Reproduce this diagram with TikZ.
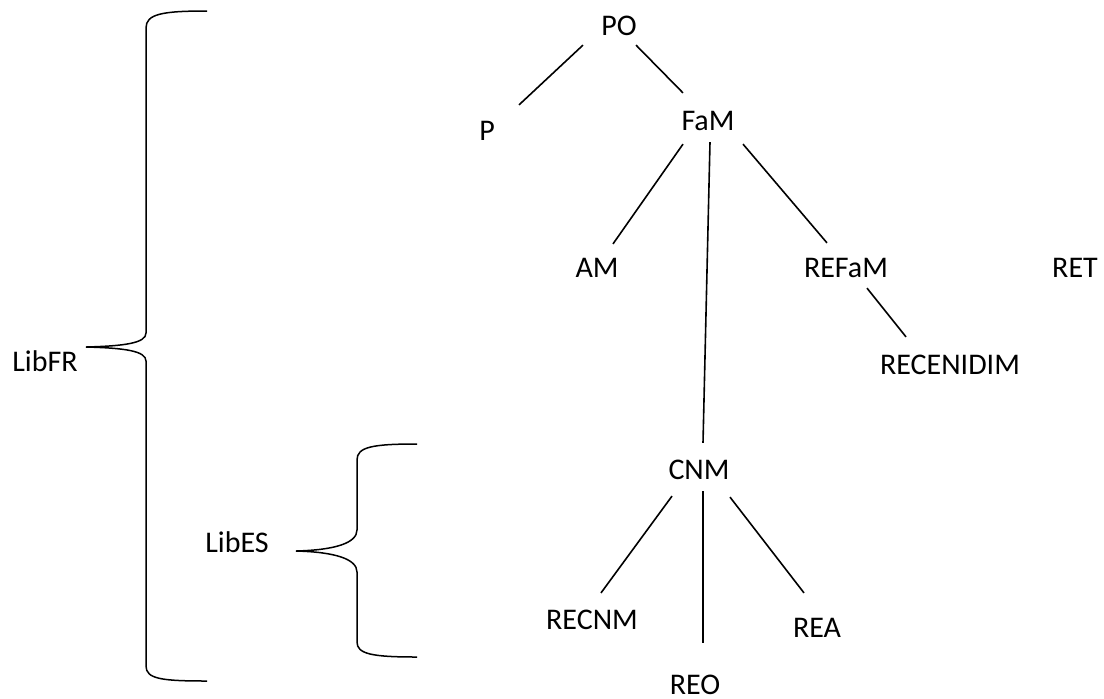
\documentclass[tikz,border=0pt]{standalone}
\usepackage{fontspec}
\setmainfont{Carlito}

\begin{document}
\begin{tikzpicture}[x=0.5pt,y=-0.5pt,
lbl/.style={inner sep=0pt,text height=9.7pt,text depth=0pt,font=\fontsize{15}{18}\selectfont},
branch/.style={line width=0.8pt},
curly/.style={line width=0.75pt}
]
\useasboundingbox (0,0) rectangle (1104,698);

% levels of the tree
\node[lbl] (PO) at (619,26) {PO};
\node[lbl] (P) at (487,131) {P};
\node[lbl] (FaM) at (708,121) {FaM};
\node[lbl] (AM) at (597,268) {AM};
\node[lbl] (REFaM) at (846,268) {REFaM};
\node[lbl] (RET) at (1075,268) {RET};
\node[lbl] (RECENIDIM) at (950,365) {RECENIDIM};
\node[lbl] (CNM) at (699,470) {CNM};
\node[lbl] (RECNM) at (592,620) {RECNM};
\node[lbl] (REO) at (695,685) {REO};
\node[lbl] (REA) at (817,628) {REA};

% braces on the left
\node[lbl] (LibFR) at (45,362) {LibFR};
\node[lbl] (LibES) at (237,543) {LibES};

\draw[branch] ([xshift=-18pt,yshift=-4.5pt]PO.south) -- ([xshift=16pt,yshift=8pt]P.north); % <- PO to P
\draw[branch] ([xshift=8.5pt,yshift=-4.5pt]PO.south) -- ([xshift=-12.5pt,yshift=9pt]FaM.north); % <- PO to FaM
\draw[branch] ([xshift=-12.5pt,yshift=-6.5pt]FaM.south) -- ([xshift=8pt,yshift=7pt]AM.north); % <- FaM to AM
\draw[branch] ([xshift=1pt,yshift=-5.5pt]FaM.south) -- ([xshift=2pt,yshift=8.5pt]CNM.north); % <- FaM to CNM
\draw[branch] ([xshift=17.5pt,yshift=-6.5pt]FaM.south) -- ([xshift=-9.5pt,yshift=7.5pt]REFaM.north); % <- FaM to REFaM
\draw[branch] ([xshift=10.5pt,yshift=-5pt]REFaM.south) -- ([xshift=-22pt,yshift=9pt]RECENIDIM.north); % <- REFaM to RECENIDIM
\draw[branch] ([xshift=-13.5pt,yshift=-8pt]CNM.south) -- ([xshift=4.5pt,yshift=8.5pt]RECNM.north); % <- CNM to RECNM
\draw[branch] ([xshift=2pt,yshift=-5.5pt]CNM.south) -- ([xshift=4pt,yshift=16pt]REO.north); % <- CNM to REO
\draw[branch] ([xshift=15.5pt,yshift=-8.5pt]CNM.south) -- ([xshift=-6.5pt,yshift=12.5pt]REA.north); % <- CNM to REA

\draw[curly] (207,11) .. controls (162,11) and (146,14) .. (146,28) -- (146,333)
  .. controls (146,343) and (125,346) .. (86,347)
  .. controls (125,348) and (146,351) .. (146,361) -- (146,666)
  .. controls (146,679) and (162,681) .. (207,681); % <- LibFR
\draw[curly] (417,444) .. controls (372,444) and (357,447) .. (357,460) -- (357,530)
  .. controls (357,543) and (335,550) .. (296,551)
  .. controls (335,552) and (357,559) .. (357,572) -- (357,642)
  .. controls (357,654) and (372,657) .. (417,657); % <- LibES
\end{tikzpicture}
\end{document}
